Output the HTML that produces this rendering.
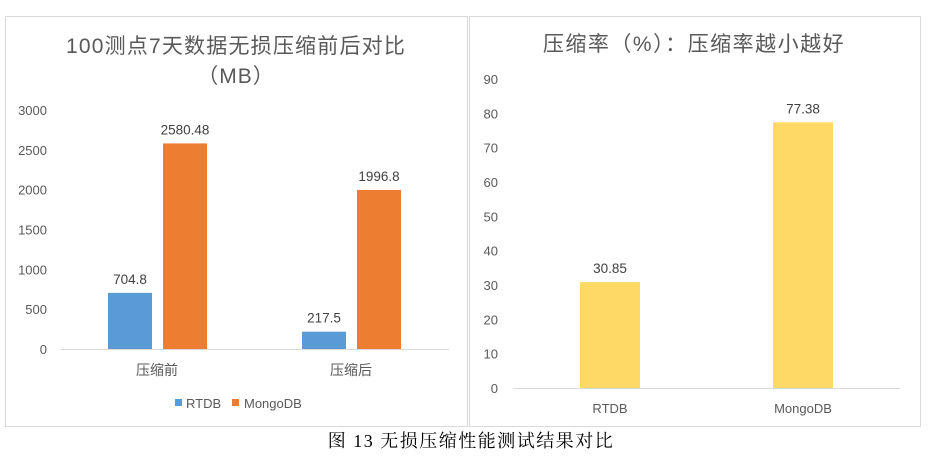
<!DOCTYPE html>
<html><head><meta charset="utf-8"><style>
body{margin:0;background:#fff;width:939px;height:459px;overflow:hidden}
svg text{font-family:"Liberation Sans","Noto Sans CJK SC",sans-serif}
</style></head><body>
<svg width="939" height="459">
<rect x="5.5" y="16.5" width="462" height="410" fill="#fff" stroke="#d9d9d9"/>
<rect x="469.5" y="16.5" width="451" height="410" fill="#fff" stroke="#d9d9d9"/>
<text x="236" y="53" font-size="21" letter-spacing="1.2" fill="#595959" text-anchor="middle">100测点7天数据无损压缩前后对比</text>
<text x="236" y="83" font-size="21" letter-spacing="1" fill="#595959" text-anchor="middle">（MB）</text>
<text x="694" y="51" font-size="21" letter-spacing="1.5" fill="#595959" text-anchor="middle">压缩率（%）：压缩率越小越好</text>
<g id="left"></g><g id="right"></g>
<rect x="175" y="399" width="7" height="7" fill="#5b9bd5"/>
<text x="186" y="408" font-size="13" fill="#595959">RTDB</text>
<rect x="232" y="399" width="7" height="7" fill="#ed7d31"/>
<text x="244" y="408" font-size="13" fill="#595959">MongoDB</text>
<text x="471" y="447" font-size="18" letter-spacing="1.5" fill="#000" text-anchor="middle" style="font-family:'Liberation Serif','Noto Serif CJK SC',serif">图 13 无损压缩性能测试结果对比</text>
</svg>
<script>
const leftCategories=["压缩前","压缩后"];
const rtdbValues=[704.8,217.5];
const mongoValues=[2580.48,1996.8];
const leftTicks=[0,500,1000,1500,2000,2500,3000];
const rightCategories=["RTDB","MongoDB"];
const rateValues=[30.85,77.38];
const rightTicks=[0,10,20,30,40,50,60,70,80,90];
const NS="http://www.w3.org/2000/svg";
function mk(p,t,a,txt){const e=document.createElementNS(NS,t);for(const k in a)e.setAttribute(k,a[k]);if(txt!==undefined)e.textContent=txt;p.appendChild(e);return e;}
const L=document.getElementById('left');
const ly=v=>349-v*(239/3000);
leftTicks.forEach(t=>{const e=mk(L,'text',{x:47,y:ly(t)+5,'font-size':13,fill:'#595959','text-anchor':'end'},t);

});
mk(L,'line',{x1:61,x2:449,y1:349.5,y2:349.5,stroke:'#d9d9d9'});
const lCenters=[157,351];
leftCategories.forEach((c,i)=>{
 const cx=lCenters[i];
 [[rtdbValues[i],-49,'#5b9bd5','rtdb'],[mongoValues[i],6,'#ed7d31','mongodb']].forEach(([v,off,col,n])=>{
  const r=mk(L,'rect',{x:cx+off,y:ly(v),width:44,height:349-ly(v),fill:col});
  
  
  const t=mk(L,'text',{x:cx+off+22,y:ly(v)-9,'font-size':13.5,fill:'#404040','text-anchor':'middle'},v);
  
  
 });
 const t=mk(L,'text',{x:cx,y:375,'font-size':14,fill:'#595959','text-anchor':'middle'},c);
 
 
});
const R=document.getElementById('right');
const ry=v=>388-v*(309/90);
rightTicks.forEach(t=>{const e=mk(R,'text',{x:498,y:ry(t)+5,'font-size':13,fill:'#595959','text-anchor':'end'},t);

});
mk(R,'line',{x1:513,x2:900,y1:388.5,y2:388.5,stroke:'#d9d9d9'});
const rCenters=[610,803];
rightCategories.forEach((c,i)=>{
 const v=rateValues[i],cx=rCenters[i];
 const r=mk(R,'rect',{x:cx-30,y:ry(v),width:60,height:388-ry(v),fill:'#ffd966'});
 
 
 const t=mk(R,'text',{x:cx,y:ry(v)-9,'font-size':13.5,fill:'#404040','text-anchor':'middle'},v);
 
 
 const l=mk(R,'text',{x:cx,y:413,'font-size':13,fill:'#595959','text-anchor':'middle'},c);
 
 
});
</script>
</body></html>
